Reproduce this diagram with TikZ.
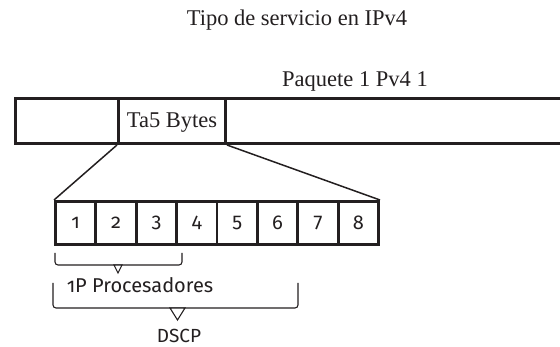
\documentclass[tikz,border=0pt]{standalone}
\usepackage{fontspec}
\setmainfont{Liberation Serif}
\newfontfamily\bytefont[Numbers=OldStyle]{Fira Sans}
\usetikzlibrary{positioning}
\definecolor{ink}{HTML}{231F20}

\begin{document}
\begin{tikzpicture}[x=1pt,y=-1pt,color=ink,
cell/.style={draw,line width=3pt,minimum height=45pt,inner sep=0pt,anchor=north west},
bytebox/.style={draw,line width=2.8pt,minimum width=40.4pt,minimum height=43pt,inner sep=0pt,anchor=north west,font=\bytefont\fontsize{20}{22}\selectfont},
brace/.style={line width=1.1pt,rounded corners=3pt},
tip/.style={line width=1.1pt,fill=white,line join=miter}
]
\useasboundingbox (0,0) rectangle (560,347);
\clip (0,0) rectangle (560,347);
\fontsize{22.5}{26}\selectfont
\def\bw{40.4}
% titles
\node[anchor=base] (title) at (297,26) {Tipo de servicio en IPv4};
\node[anchor=base] (pkt) at (355,87) {Paquete 1 Pv4 1};
% packet row
\node[cell,minimum width=103pt] (c1) at (14,97) {};
\node[cell,minimum width=107pt] (ta) at (117,97) {};
\node[anchor=base] (talbl) at (ta.center |- 0,128) {Ta5 Bytes};
\node[cell,minimum width=380pt] (c3) at (224,97) {};
% the eight bits
\foreach \i in {1,...,8}
  \node[bytebox] (b\i) at ({54+(\i-1)*\bw},200) {\i};
\draw[line width=1.5pt] (ta.south west) -- (b1.north west);
\draw[line width=1.5pt] (ta.south east) -- (b8.north east);
% brackets
\coordinate (p1) at (55,253);
\coordinate (p2) at (182,253);
\draw[brace] (p1) |- (182,265) -- (p2);
\draw[tip] (114,265) -- (122,265) -- (118,273) -- cycle;
\node[anchor=base,font=\bytefont\fontsize{20}{22}\selectfont] (ip) at (140,293) {1P Procesadores};
\coordinate (d1) at (53,283);
\coordinate (d2) at (298,283);
\draw[brace] (d1) |- (298,308) -- (d2);
\draw[tip] (170,308) -- (185,308) -- (177.5,320) -- cycle;
\node[anchor=base,font=\bytefont\fontsize{19}{22}\selectfont] (dscp) at (179,343) {DSCP};
\end{tikzpicture}
\end{document}
